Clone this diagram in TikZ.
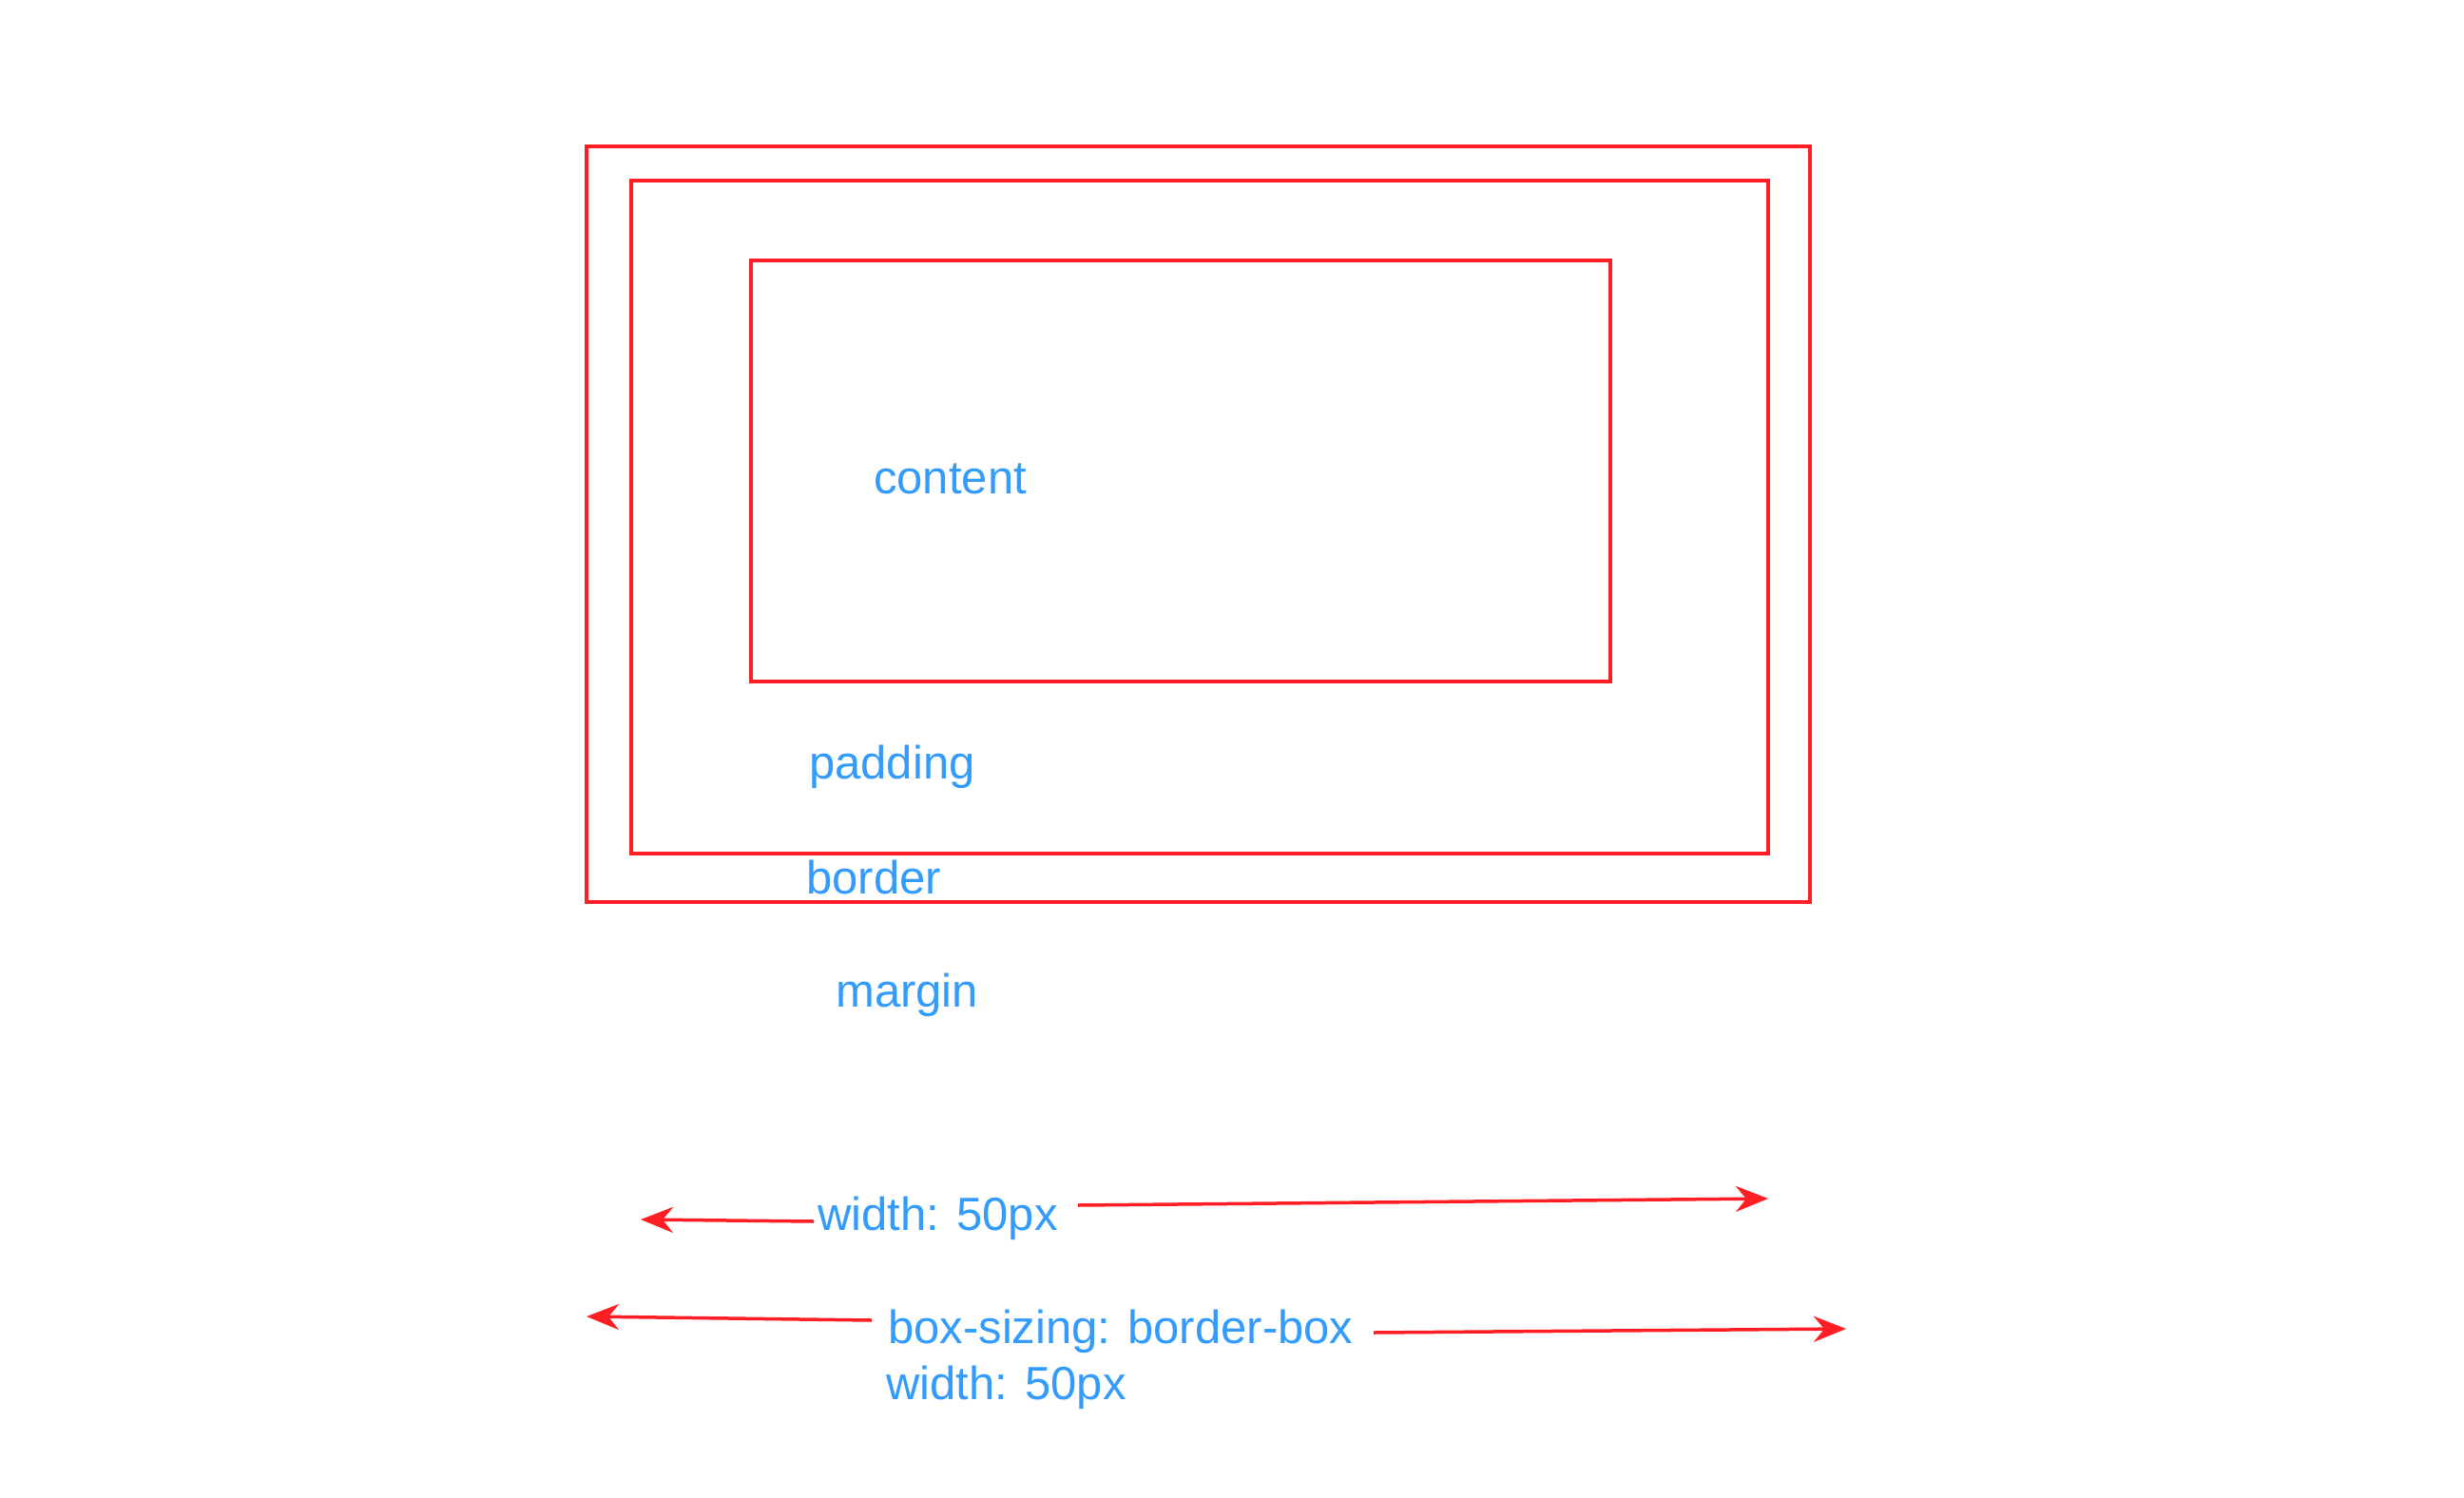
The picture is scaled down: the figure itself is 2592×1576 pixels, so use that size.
\documentclass[tikz,border=0pt]{standalone}
\usepackage{fontspec}
\setmainfont{Liberation Sans}
\usetikzlibrary{arrows.meta}
\definecolor{boxred}{RGB}{255,30,35}
\definecolor{txtblue}{RGB}{50,155,252}
\tikzset{
  boxline/.style={draw=boxred, line width=3.5pt},
  arr/.style={draw=boxred, line width=3.5pt, -{Stealth[length=34pt,width=27pt,inset=11pt]}},
  lbl/.style={text=txtblue, inner sep=0pt, anchor=base west, font=\fontsize{49}{58}\selectfont}
}
\begin{document}
\begin{tikzpicture}[x=1pt,y=-1pt]
\useasboundingbox (0,0) rectangle (2592,1576);
\fill[white] (0,0) rectangle (2592,1576);
% boxes
\draw[boxline] (617,154) rectangle (1904,949);
\draw[boxline] (664,190) rectangle (1860,898);
\draw[boxline] (790,274) rectangle (1694,717);
% labels
\node[lbl] (content) at (919,519) {content};
\node[lbl] (padding) at (851,819) {padding};
\node[lbl] (border) at (848,940) {border};
\node[lbl] (margin) at (879,1059) {margin};
\node[lbl] (w1) at (860,1294) {width: 50px};
\node[lbl] (w2) at (934,1413) {box-sizing: border-box};
\node[lbl] (w3) at (932,1472) {width: 50px};
% arrow coordinates
\coordinate (a1s) at (856,1285);
\coordinate (a1e) at (674,1283);
\coordinate (a2s) at (1134,1268);
\coordinate (a2e) at (1860,1261);
\coordinate (b1s) at (917,1389);
\coordinate (b1e) at (617,1385);
\coordinate (b2s) at (1445,1402);
\coordinate (b2e) at (1942,1398);
\draw[arr] (a1s) -- (a1e);
\draw[arr] (a2s) -- (a2e);
\draw[arr] (b1s) -- (b1e);
\draw[arr] (b2s) -- (b2e);
\end{tikzpicture}
\end{document}
